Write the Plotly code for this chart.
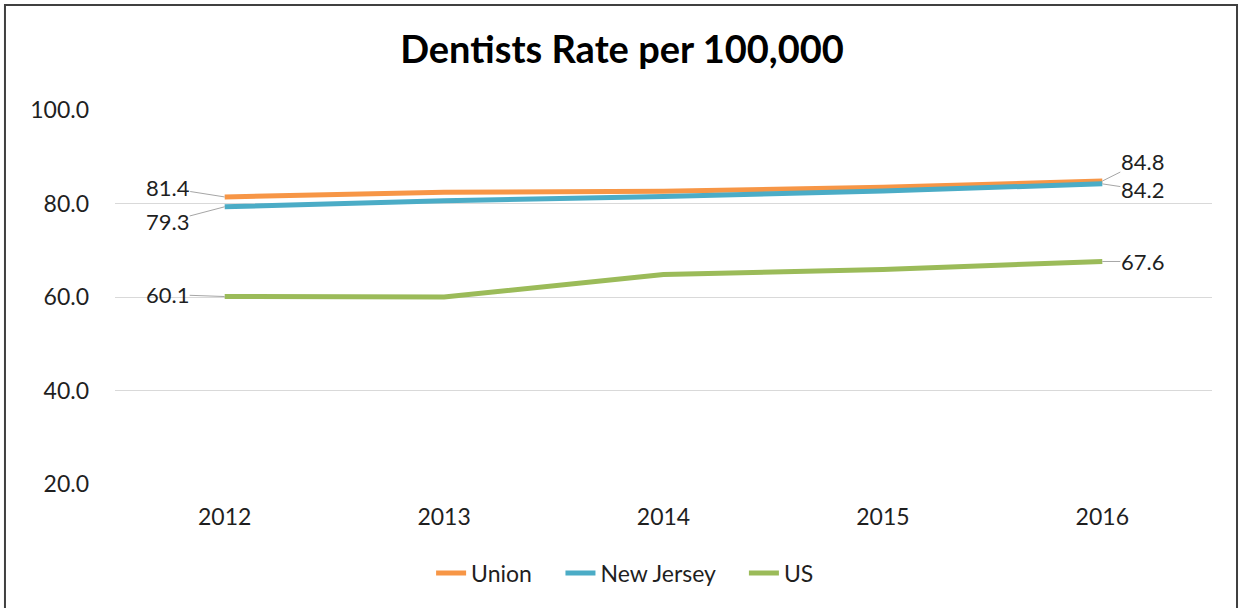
import plotly.graph_objects as go

years = [2012, 2013, 2014, 2015, 2016]
year_labels = ["2012", "2013", "2014", "2015", "2016"]
union = [81.4, 82.4, 82.6, 83.5, 84.8]
new_jersey = [79.3, 80.6, 81.5, 82.7, 84.2]
us = [60.1, 60.0, 64.8, 65.9, 67.6]
y_ticks = [20, 40, 60, 80, 100]
series_names = ["Union", "New Jersey", "US"]

FONT = "Lato"
TXT = "#1f1f1f"
colors = {"Union": "#F79646", "New Jersey": "#4BACC6", "US": "#9BBB59"}
PAD = "\u00a0" * 4

fig = go.Figure()
for name, vals in zip(series_names, [union, new_jersey, us]):
    legend_name = name if name == "US" else name + PAD
    fig.add_trace(go.Scatter(x=years, y=vals, mode="lines", name=legend_name,
                             line=dict(color=colors[name], width=5),
                             hovertemplate=name + ": %{y:.1f}<extra></extra>"))

# data labels with leader lines (first and last points)
label_specs = [
    (union, 0, -57, -9),
    (new_jersey, 0, -57, 15),
    (us, 0, -57, -2),
    (union, -1, 40, -20),
    (new_jersey, -1, 40, 6),
    (us, -1, 40, 0),
]
for series, idx, ax, ay in label_specs:
    fig.add_annotation(x=years[idx], y=series[idx], text=f"{series[idx]:.1f}",
                       showarrow=True, arrowhead=0, arrowwidth=1,
                       arrowcolor="#a6a6a6", ax=ax, ay=ay, standoff=0,
                       borderpad=0,
                       font=dict(family=FONT, size=22, color=TXT))

# outer border of chart
fig.add_shape(type="rect", xref="paper", yref="paper",
              x0=-0.1003, x1=1.0228, y0=-0.34, y1=1.2807,
              line=dict(color="#404040", width=2), fillcolor="rgba(0,0,0,0)",
              layer="below")

fig.update_layout(
    width=1239, height=608,
    margin=dict(l=115, r=27, t=110, b=124),
    paper_bgcolor="white", plot_bgcolor="white",
    font=dict(family=FONT, size=23, color=TXT),
    title=dict(text="<b>Dentists Rate per 100,000</b>", x=0.502, y=0.918,
               xanchor="center", yanchor="middle",
               font=dict(family=FONT, size=38, color="#000000")),
    xaxis=dict(range=[2011.5, 2016.5], tickvals=years, ticktext=year_labels,
               showgrid=False, zeroline=False, showline=False,
               ticklabelstandoff=17, tickfont=dict(size=23)),
    yaxis=dict(range=[20, 100], tickvals=y_ticks, tickformat=".1f",
               showgrid=True, gridcolor="#d9d9d9", gridwidth=1,
               zeroline=False, showline=False,
               ticklabelstandoff=25, tickfont=dict(size=23)),
    legend=dict(orientation="h", x=0.465, y=-0.238, xanchor="center",
                yanchor="middle", font=dict(size=23), itemwidth=30),
    showlegend=True,
)

fig.write_html("out.html", config={"displayModeBar": False},
               post_script="document.body.style.margin='0';")
